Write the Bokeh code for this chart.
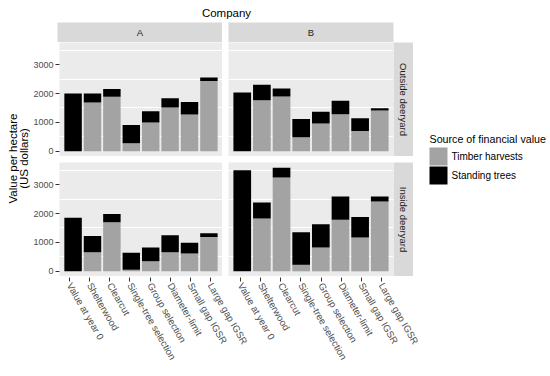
import math
from bokeh.plotting import figure
from bokeh.models import (Range1d, FactorRange, FixedTicker, Grid, LinearAxis,
                          ColumnDataSource, Label)
from bokeh.layouts import row, column
from bokeh.embed import file_html
from bokeh.resources import INLINE

# ---------------- data ----------------
scenarios = ["Value at year 0", "Shelterwood", "Clearcut", "Single-tree selection",
             "Group selection", "Diameter-limit", "Small gap IGSR", "Large gap IGSR"]
companies = ["A", "B"]
locations = ["Outside deeryard", "Inside deeryard"]
series_names = ["Timber harvests", "Standing trees"]

timber_outside_A = [0, 1690, 1890, 280, 1000, 1520, 1270, 2430]
standing_outside_A = [2000, 310, 270, 630, 385, 315, 440, 125]
timber_outside_B = [0, 1770, 1900, 490, 965, 1280, 700, 1410]
standing_outside_B = [2035, 530, 275, 625, 405, 465, 440, 80]
timber_inside_A = [0, 660, 1700, 50, 350, 660, 620, 1185]
standing_inside_A = [1850, 560, 280, 595, 470, 585, 365, 130]
timber_inside_B = [0, 1830, 3245, 225, 820, 1780, 1170, 2415]
standing_inside_B = [3495, 550, 340, 1125, 810, 810, 705, 175]

y_ticks = [0, 1000, 2000, 3000]
y_minor = [500, 1500, 2500, 3500]

title_top = "Company"
x_title = "Silvicultural scenario"
y_title_1 = "Value per hectare"
y_title_2 = "(US dollars)"
legend_title = "Source of financial value"

# ---------------- style ----------------
FONT = "Liberation Sans"
GRAY = "#A3A3A3"
SERIES_COLORS = [GRAY, "black"]
PANEL_BG = "#EBEBEB"
STRIP_BG = "#D9D9D9"
FW, FH = 165, 114
YLAB_W = 30
LEFT_B = 27
GAP = 6
STRIP_W = 20
COMPANY_H = 22
STRIP_H = 20
TOP_H = COMPANY_H + STRIP_H + FH + GAP + FH   # 276
AXIS_H = 100
TOTAL_W = 550
LEGEND_W = TOTAL_W - YLAB_W - (LEFT_B + FW + GAP + FW + STRIP_W)

totals = [t + s for t, s in zip(timber_outside_A + timber_outside_B + timber_inside_A + timber_inside_B,
                                standing_outside_A + standing_outside_B + standing_inside_A + standing_inside_B)]
ymax = max(totals)
ylo, yhi = -0.05 * ymax, 1.05 * ymax
XPAD = 0.1
UNITS = len(scenarios) + 2 * XPAD          # 8.2 category units per panel
GAP_UNITS = GAP * UNITS / FW


def deco(width, height, ml=0, mr=0, mt=0, mb=0, bg="white", xr=None, yr=None):
    p = figure(width=width, height=height, x_axis_location=None, y_axis_location=None,
               toolbar_location=None, output_backend="svg", outline_line_color=None,
               min_border_left=ml, min_border_right=mr, min_border_top=mt, min_border_bottom=mb,
               background_fill_color=bg, border_fill_color="white",
               x_range=Range1d(0, xr if xr else width), y_range=Range1d(0, yr if yr else height))
    p.grid.visible = False
    return p


def add_text(p, x, y, text, size, color="black", angle=0.0, align="center"):
    p.add_layout(Label(x=x, y=y, text=text, text_font=FONT, text_font_size=size,
                       text_color=color, angle=angle, text_align=align, text_baseline="middle"))


def panel(timber, standing, left_axis, top_border):
    ml = LEFT_B if left_axis else GAP
    p = figure(width=FW + ml, height=FH + top_border,
               x_range=FactorRange(factors=scenarios, range_padding=2 * XPAD, range_padding_units="absolute"),
               y_range=Range1d(ylo, yhi), x_axis_location=None, y_axis_location=None,
               toolbar_location=None, output_backend="svg", outline_line_color=None,
               min_border_left=ml, min_border_right=0, min_border_top=top_border, min_border_bottom=0,
               background_fill_color=PANEL_BG, border_fill_color="white")
    p.grid.visible = False
    p.add_layout(Grid(dimension=1, ticker=FixedTicker(ticks=y_ticks, minor_ticks=y_minor),
                      grid_line_color=None, minor_grid_line_color="white", minor_grid_line_width=1))
    src = ColumnDataSource(dict(x=scenarios, timber=timber, standing=standing))
    p.vbar_stack(["timber", "standing"], x="x", width=0.9, fill_color=SERIES_COLORS,
                 line_color=None, source=src)
    if left_axis:
        ax = LinearAxis(ticker=FixedTicker(ticks=y_ticks), major_label_text_font=FONT,
                        major_label_text_font_size="9px", major_label_text_color="#4D4D4D",
                        major_tick_out=4, major_tick_in=0, minor_tick_out=0, minor_tick_in=0,
                        axis_line_color=None, major_tick_line_color="#333333",
                        major_label_standoff=2)
        p.add_layout(ax, "left")
    return p


# ---------------- build ----------------
center_w = LEFT_B + FW + GAP + FW + STRIP_W

company_fig = deco(center_w, COMPANY_H)
add_text(company_fig, 196, 10, title_top, "11.5px")

stripA = deco(LEFT_B + FW, STRIP_H, ml=LEFT_B, bg=STRIP_BG, xr=FW, yr=STRIP_H)
add_text(stripA, FW / 2, STRIP_H / 2, companies[0], "9.5px", "#1A1A1A")
stripB = deco(GAP + FW + STRIP_W, STRIP_H, ml=GAP, mr=STRIP_W, bg=STRIP_BG, xr=FW, yr=STRIP_H)
add_text(stripB, FW / 2, STRIP_H / 2, companies[1], "9.5px", "#1A1A1A")

pA_top = panel(timber_outside_A, standing_outside_A, True, 0)
pB_top = panel(timber_outside_B, standing_outside_B, False, 0)
stripR_top = deco(STRIP_W, FH, bg=STRIP_BG, xr=STRIP_W, yr=FH)
add_text(stripR_top, STRIP_W / 2, FH / 2, locations[0], "9.5px", "#1A1A1A", angle=-math.pi / 2)

pA_bot = panel(timber_inside_A, standing_inside_A, True, GAP)
pB_bot = panel(timber_inside_B, standing_inside_B, False, GAP)
stripR_bot = deco(STRIP_W, FH + GAP, mt=GAP, bg=STRIP_BG, xr=STRIP_W, yr=FH)
add_text(stripR_bot, STRIP_W / 2, FH / 2, locations[1], "9.5px", "#1A1A1A", angle=-math.pi / 2)

ylab_fig = deco(YLAB_W, TOP_H)
add_text(ylab_fig, 12, 118, y_title_1, "11.5px", angle=math.pi / 2)
add_text(ylab_fig, 23, 118, y_title_2, "11.5px", angle=math.pi / 2)

# legend (keys + labels), in pixel coordinates of the legend panel
legend_fig = deco(LEGEND_W, TOP_H)
add_text(legend_fig, 16, TOP_H - 138, legend_title, "10.7px", align="left")
key_top = TOP_H - 147
KEY = 18
for i, (name, col) in enumerate(zip(series_names, SERIES_COLORS)):
    t = key_top - i * (KEY + 1)
    legend_fig.quad(left=[16], right=[16 + KEY], top=[t], bottom=[t - KEY],
                    fill_color=col, line_color=None)
    add_text(legend_fig, 16 + KEY + 4, t - KEY / 2, name, "10px", align="left")

center = column(company_fig, row(stripA, stripB), row(pA_top, pB_top, stripR_top),
                row(pA_bot, pB_bot, stripR_bot))
top_block = row(ylab_fig, center, legend_fig)

# shared x axis row below both bottom panels (same category scale as the panels)
axis_left = YLAB_W + LEFT_B
axis_w = FW + GAP + FW
xaxis_fig = figure(width=TOTAL_W, height=AXIS_H, toolbar_location=None, output_backend="svg",
                   x_range=Range1d(1 - XPAD - 0.5, 1 - XPAD - 0.5 + 2 * UNITS + GAP_UNITS),
                   y_range=Range1d(0, 1), x_axis_location=None, y_axis_location=None,
                   min_border_left=axis_left, min_border_right=TOTAL_W - axis_left - axis_w,
                   min_border_top=0, min_border_bottom=AXIS_H - 1, outline_line_color=None,
                   background_fill_color="white", border_fill_color="white")
xaxis_fig.grid.visible = False
tick_pos = [i + 1 for i in range(len(scenarios))] + \
           [i + 1 + UNITS + GAP_UNITS for i in range(len(scenarios))]
tick_lab = {t: s for t, s in zip(tick_pos, scenarios + scenarios)}
bx = LinearAxis(ticker=FixedTicker(ticks=tick_pos), major_label_overrides=tick_lab,
                major_label_text_font=FONT, major_label_text_font_size="9.6px",
                major_label_text_color="#4D4D4D", major_tick_out=4, major_tick_in=0,
                minor_tick_out=0, minor_tick_in=0,
                axis_line_color=None, major_tick_line_color="#333333",
                major_label_standoff=2, major_label_orientation=-math.pi / 3)
xaxis_fig.add_layout(bx, "below")
xaxis_fig.add_layout(Label(x=(xaxis_fig.x_range.start + xaxis_fig.x_range.end) / 2, y=-89,
                           text=x_title, text_font=FONT, text_font_size="12px",
                           text_align="center", text_baseline="middle"))

root = column(top_block, xaxis_fig)

open("out.html", "w").write(file_html(root, INLINE))
